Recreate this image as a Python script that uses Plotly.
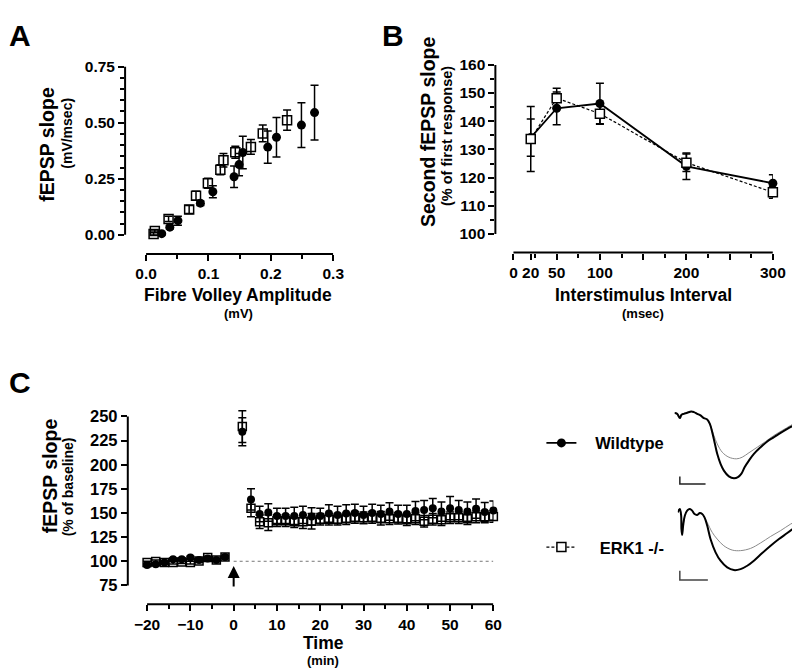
import plotly.graph_objects as go

FONT = "Arial, Liberation Sans, sans-serif"

# ---- Panel A: input/output (fibre volley vs fEPSP slope) ----
a_wt_x = [0.025, 0.038, 0.051, 0.087, 0.107, 0.141, 0.149, 0.155, 0.195, 0.209, 0.249, 0.270]
a_wt_y = [0.005, 0.034, 0.063, 0.141, 0.192, 0.259, 0.313, 0.367, 0.391, 0.435, 0.489, 0.545]
a_wt_err = [0.005, 0.008, 0.020, 0.010, 0.027, 0.048, 0.050, 0.072, 0.072, 0.088, 0.100, 0.122]

a_erk_x = [0.012, 0.014, 0.036, 0.069, 0.080, 0.099, 0.119, 0.124, 0.143, 0.168, 0.187, 0.226]
a_erk_y = [0.004, 0.017, 0.071, 0.113, 0.174, 0.230, 0.290, 0.332, 0.368, 0.392, 0.452, 0.511]
a_erk_err = [0.005, 0.005, 0.012, 0.018, 0.020, 0.022, 0.022, 0.030, 0.027, 0.033, 0.037, 0.045]

# ---- Panel B: paired-pulse facilitation ----
b_isi = [20, 50, 100, 200, 300]
b_wt = [134.2, 144.6, 146.3, 124.0, 118.0]
b_wt_err = [6.6, 5.8, 7.2, 4.7, 3.0]
b_erk = [133.7, 148.2, 142.7, 125.3, 114.8]
b_erk_err = [11.5, 3.5, 3.8, 3.1, 2.1]

# ---- Panel C: LTP time course ----
c_time = [-20, -18, -16, -14, -12, -10, -8, -6, -4, -2,
          2, 4, 6, 8, 10, 12, 14, 16, 18, 20, 22, 24, 26, 28, 30,
          32, 34, 36, 38, 40, 42, 44, 46, 48, 50, 52, 54, 56, 58, 60]
c_wt = [96.2, 96.9, 98.6, 102.0, 102.0, 103.8, 101.4, 102.8, 101.4, 104.5,
        234.3, 164.0, 149.0, 150.5, 147.0, 147.0, 147.0, 148.0, 146.5, 147.0,
        149.5, 148.0, 149.5, 150.0, 148.0, 150.0, 149.0, 151.5, 149.0, 149.0,
        152.0, 153.0, 155.0, 151.5, 155.0, 153.0, 151.5, 154.5, 151.0, 152.5]
c_wt_err = [1.5, 1.5, 1.5, 1.5, 1.5, 1.5, 1.5, 1.5, 1.5, 1.5,
            14.5, 11, 8, 9, 8, 8, 9, 9, 9, 8,
            9, 9, 9, 9, 9, 9, 9, 9, 9, 9,
            10, 10, 10, 10, 12, 10, 10, 10, 10, 10]
c_erk = [98.6, 99.7, 98.6, 98.6, 99.3, 98.6, 100.3, 103.8, 101.4, 104.5,
         239.5, 155.0, 141.0, 140.0, 142.0, 142.0, 141.0, 141.0, 141.5, 143.5,
         143.5, 143.5, 144.0, 145.5, 145.0, 145.5, 144.5, 144.0, 144.5, 143.0,
         144.0, 141.5, 143.5, 143.0, 145.0, 145.0, 144.0, 146.0, 146.0, 146.5]
c_erk_err = [1.5, 1.5, 1.5, 1.5, 1.5, 1.5, 1.5, 1.5, 1.5, 1.5,
             16.5, 9, 7, 8, 6, 6, 6, 7, 8, 6,
             6, 6, 6, 6, 6, 6, 7, 6, 6, 6,
             6, 6, 6, 6, 6, 6, 6, 6, 6, 6]

# ---- Example field potentials (ms, mV) ----
wt_post_t = [0, 0.52, 1.04, 1.36, 1.82, 2.47, 3.25, 3.77, 4.42, 5.06, 5.71, 6.36, 6.88, 7.34,
             7.79, 8.31, 8.96, 9.61, 10.58, 11.56, 12.34, 12.99, 13.64, 14.48, 15.45, 16.75,
             18.05, 19.35, 20.65, 21.95, 22.92, 23.9]
wt_post_v = [0, -0.05, -0.34, -0.11, -0.05, 0.02, 0.11, 0.07, -0.05, -0.16, -0.34, -0.43, -0.73,
             -1.30, -1.98, -2.77, -3.45, -3.91, -4.30, -4.43, -4.36, -4.14, -3.68, -3.23, -2.77,
             -2.32, -1.93, -1.64, -1.34, -1.07, -0.89, -0.73]
wt_pre_t = [0, 0.52, 1.04, 1.36, 1.82, 2.47, 3.25, 3.77, 4.42, 5.06, 5.71, 6.36, 7.01, 7.66,
            8.31, 9.29, 10.58, 12.08, 13.18, 14.48, 16.10, 17.73, 19.35, 20.97, 22.60, 23.9]
wt_pre_v = [0, -0.05, -0.34, -0.11, -0.05, 0.02, 0.11, 0.07, -0.05, -0.16, -0.34, -0.43, -0.84,
            -1.52, -2.09, -2.66, -3.0, -3.11, -3.0, -2.70, -2.32, -1.93, -1.52, -1.18, -0.84, -0.57]

erk_post_t = [0, 0.36, 0.60, 0.65, 0.77, 0.95, 1.25, 1.67, 2.14, 2.56, 2.98, 3.45, 3.93, 4.35,
              4.76, 5.24, 5.83, 6.73, 7.62, 8.81, 10.0, 11.19, 12.38, 13.57, 15.06, 16.55,
              18.04, 19.52, 21.31]
erk_post_v = [0, 0.18, -0.18, -0.89, -1.21, -0.71, -0.18, 0.09, 0.18, 0.09, -0.09, -0.14, -0.04,
              -0.09, -0.27, -0.71, -1.43, -2.14, -2.59, -2.95, -3.09, -3.04, -2.86, -2.59, -2.18,
              -1.79, -1.43, -1.11, -0.71]
erk_pre_t = [0, 0.36, 0.60, 0.65, 0.77, 0.95, 1.25, 1.67, 2.14, 2.56, 2.98, 3.45, 3.93, 4.35,
             4.76, 5.24, 6.13, 7.02, 8.21, 9.70, 11.19, 12.98, 14.76, 16.55, 18.33, 20.12, 21.31]
erk_pre_v = [0, 0.18, -0.18, -0.89, -1.21, -0.71, -0.18, 0.09, 0.18, 0.09, -0.09, -0.14, -0.04,
             -0.09, -0.27, -0.54, -1.07, -1.43, -1.79, -2.02, -2.05, -1.93, -1.64, -1.29, -0.98,
             -0.63, -0.45]


def err(vals):
    return dict(type="data", array=vals, visible=True, color="black", thickness=1.5, width=4)


fig = go.Figure()

# Panel A
fig.add_trace(go.Scatter(x=a_erk_x, y=a_erk_y, mode="markers", error_y=err(a_erk_err),
                         marker=dict(symbol="square-open", size=9, color="black", line=dict(width=1.5)),
                         xaxis="x", yaxis="y", showlegend=False, cliponaxis=False))
fig.add_trace(go.Scatter(x=a_wt_x, y=a_wt_y, mode="markers", error_y=err(a_wt_err),
                         marker=dict(symbol="circle", size=9, color="black"),
                         xaxis="x", yaxis="y", showlegend=False, cliponaxis=False))

# Panel B (these also feed the legend)
fig.add_trace(go.Scatter(x=b_isi, y=b_wt, mode="lines+markers", error_y=err(b_wt_err),
                         line=dict(color="black", width=1.8),
                         marker=dict(symbol="circle", size=9, color="black"),
                         name="\u00a0\u00a0\u00a0Wildtype", legend="legend",
                         xaxis="x2", yaxis="y2", cliponaxis=False))
fig.add_trace(go.Scatter(x=b_isi, y=b_erk, mode="lines+markers", error_y=err(b_erk_err),
                         line=dict(color="black", width=1.2, dash="3px,2px"),
                         marker=dict(symbol="square", size=9, color="white", line=dict(color="black", width=1.5)),
                         name="\u00a0\u00a0\u00a0\u00a0ERK1 -/-", legend="legend2",
                         xaxis="x2", yaxis="y2", cliponaxis=False))

# Panel C
fig.add_trace(go.Scatter(x=c_time, y=c_erk, mode="markers", error_y=err(c_erk_err),
                         marker=dict(symbol="square-open", size=8, color="black", line=dict(width=1.5)),
                         xaxis="x3", yaxis="y3", showlegend=False, cliponaxis=False))
fig.add_trace(go.Scatter(x=c_time, y=c_wt, mode="markers", error_y=err(c_wt_err),
                         marker=dict(symbol="circle", size=8, color="black"),
                         xaxis="x3", yaxis="y3", showlegend=False, cliponaxis=False))

# Example traces
for t, v, xa, ya, col, w in [
    (wt_pre_t, wt_pre_v, "x4", "y4", "#8a8a8a", 1),
    (wt_post_t, wt_post_v, "x4", "y4", "black", 2),
    (erk_pre_t, erk_pre_v, "x5", "y5", "#8a8a8a", 1),
    (erk_post_t, erk_post_v, "x5", "y5", "black", 2),
]:
    fig.add_trace(go.Scatter(x=t, y=v, mode="lines", line=dict(color=col, width=w, shape="spline"),
                             xaxis=xa, yaxis=ya, showlegend=False))

# the page puts the figure at about (8, 15.5) and shrinks it slightly;
# px/py turn a position on the final picture into paper fractions
W, H = 800, 670
X0, SX = 8.0, 0.983
Y0, SY = 15.5, 0.985


def px(x):
    return min(1.0, (x - X0) / SX / W)


def py(y):
    return 1 - (y - Y0) / SY / H


tickfont = dict(family=FONT, size=15.5, color="black", weight="bold")
base = dict(showgrid=False, zeroline=False, showline=False, ticks="outside", ticklen=6,
            tickwidth=1.5, tickcolor="black", tickfont=tickfont, fixedrange=True)


def minor(vals):
    return dict(tickvals=vals, ticks="outside", ticklen=4, tickwidth=1.5, tickcolor="black")


hidden = dict(visible=False, fixedrange=True)
legfont = dict(family=FONT, size=16.5, color="black", weight="bold")

fig.update_layout(
    width=W, height=H, margin=dict(l=0, r=0, t=0, b=0),
    paper_bgcolor="white", plot_bgcolor="white",
    font=dict(family=FONT, color="black"),
    xaxis=dict(base, domain=[px(125), px(333)], range=[-0.0337, 0.3], anchor="y",
               tickvals=[0, 0.1, 0.2, 0.3], ticktext=["0.0", "0.1", "0.2", "0.3"],
               minor=minor([0.05, 0.15, 0.25])),
    yaxis=dict(base, domain=[py(252), py(65)], range=[-0.085, 0.75], anchor="x",
               tickvals=[0, 0.25, 0.5, 0.75], ticktext=["0.00", "0.25", "0.50", "0.75"],
               minor=minor([0.05, 0.1, 0.15, 0.2, 0.3, 0.35, 0.4, 0.45, 0.55, 0.6, 0.65, 0.7])),
    xaxis2=dict(base, domain=[px(495), px(772.3)], range=[-20.9, 300], anchor="y2",
                tickvals=[0, 20, 50, 100, 150, 200, 250, 300],
                ticktext=["0", "20", "50", "100", "", "200", "", "300"],
                minor=minor([25, 75, 125, 175, 225, 275])),
    yaxis2=dict(base, domain=[py(250.7), py(63.3)], range=[93.4, 160], anchor="x2",
                tickvals=[100, 110, 120, 130, 140, 150, 160],
                minor=minor([105, 115, 125, 135, 145, 155])),
    xaxis3=dict(base, domain=[px(127.7), px(493)], range=[-24.46, 60], anchor="y3",
                tickvals=[-20, -10, 0, 10, 20, 30, 40, 50, 60],
                minor=minor([-15, -5, 5, 15, 25, 35, 45, 55])),
    yaxis3=dict(base, domain=[py(601.7), py(404.7)], range=[55.6, 260], anchor="x3",
                tickvals=[75, 100, 125, 150, 175, 200, 225, 250],
                tickfont=dict(tickfont, size=16.5)),
    xaxis4=dict(hidden, domain=[px(674), px(800)], range=[0, 23.45], anchor="y4"),
    yaxis4=dict(hidden, domain=[py(487.3), py(400.7)], range=[-5.2, 0.7], anchor="x4"),
    xaxis5=dict(hidden, domain=[px(677.3), px(800)], range=[0, 20.9], anchor="y5"),
    yaxis5=dict(hidden, domain=[py(582.8), py(500.7)], range=[-3.9, 0.5], anchor="x5"),
    legend=dict(x=px(541), y=py(441), xanchor="left", yanchor="middle",
                bgcolor="rgba(0,0,0,0)", font=legfont),
    legend2=dict(x=px(541), y=py(545), xanchor="left", yanchor="middle",
                 bgcolor="rgba(0,0,0,0)", font=legfont),
)

axis_line = dict(color="black", width=2)
shapes = [
    # Panel A axes
    dict(type="line", xref="x domain", yref="y", x0=0, x1=0, y0=0, y1=0.75, line=axis_line),
    dict(type="line", xref="x", yref="y domain", x0=0, x1=0.3, y0=0, y1=0, line=axis_line),
    # Panel B axes
    dict(type="line", xref="x2 domain", yref="y2", x0=0, x1=0, y0=100, y1=160, line=axis_line),
    dict(type="line", xref="x2", yref="y2 domain", x0=0, x1=300, y0=0, y1=0, line=axis_line),
    # Panel C axes
    dict(type="line", xref="x3 domain", yref="y3", x0=0, x1=0, y0=75, y1=250, line=axis_line),
    dict(type="line", xref="x3", yref="y3 domain", x0=-20, x1=60, y0=0, y1=0, line=axis_line),
    # baseline reference
    dict(type="line", xref="x3", yref="y3", x0=0, x1=60, y0=100, y1=100,
         line=dict(color="#777", width=1, dash="dot")),
    # scale bars
    dict(type="path", xref="x4", yref="y4", path="M 1.04,-4.32 L 1.04,-4.82 L 6.04,-4.82",
         line=dict(color="#222", width=1.5)),
    dict(type="path", xref="x5", yref="y5", path="M 0.36,-3.125 L 0.36,-3.625 L 5.36,-3.625",
         line=dict(color="#444", width=1.5)),
]
fig.update_layout(shapes=shapes)


def label(text, x, y, size, angle=0, yanchor="middle"):
    fig.add_annotation(text=text, x=px(x), y=py(y) if yanchor == "middle" else 1.0,
                       xref="paper", yref="paper", xanchor="center", yanchor=yanchor,
                       showarrow=False, textangle=angle,
                       font=dict(family=FONT, size=size, color="black", weight="bold"))


label("A", 20, 0, 30, yanchor="top")
label("B", 393, 0, 30, yanchor="top")
label("C", 20, 380, 30)

label("fEPSP slope", 47, 143, 19.5, -90)
label("(mV/msec)", 67, 132, 14, -90)
label("Fibre Volley Amplitude", 238, 293, 17.5)
label("(mV)", 238, 312, 13)

label("Second fEPSP slope", 427, 130, 19.5, -90)
label("(% of first response)", 446, 134, 14.5, -90)
label("Interstimulus Interval", 643, 293, 17.5)
label("(msec)", 643, 312, 13)

label("fEPSP slope", 50, 474, 19.5, -90)
label("(% of baseline)", 68, 485, 14, -90)
label("Time", 323, 641, 17.5)
label("(min)", 323, 658, 13)

# tetanus arrow
fig.add_annotation(x=0, y=95, xref="x3", yref="y3", ax=0, ay=22, text="", showarrow=True,
                   arrowhead=2, arrowsize=1.2, arrowwidth=2, arrowcolor="black")

fig.write_html("out.html")
